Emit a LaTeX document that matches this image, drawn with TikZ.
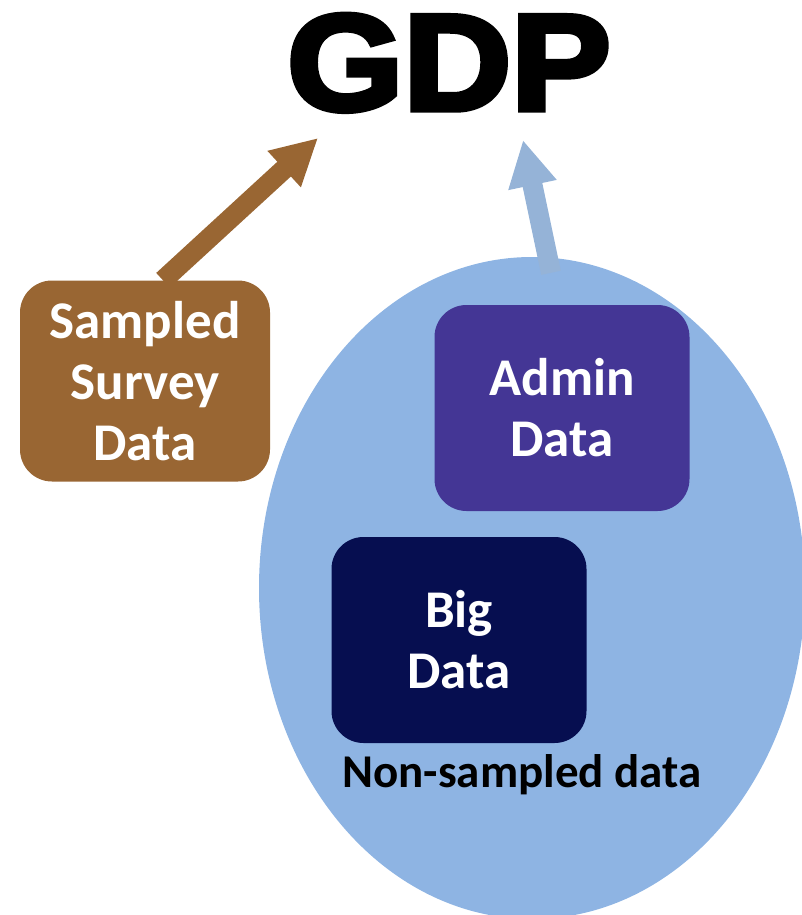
\documentclass[tikz,border=0pt]{standalone}
\usepackage{fontspec}
\setmainfont{Carlito}
\newfontfamily\gdpfont[FakeBold=4]{Liberation Sans Bold}
\usetikzlibrary{shapes.geometric,arrows.meta,calc}
\definecolor{ellblue}{RGB}{142,180,227}
\definecolor{arrblue}{RGB}{149,179,215}
\definecolor{adminc}{RGB}{68,54,149}
\definecolor{bigc}{RGB}{6,14,80}
\definecolor{brownc}{RGB}{153,102,51}
\tikzset{
  databox/.style={rounded corners=32pt, minimum width=255pt, minimum height=206pt,
    inner sep=0pt, align=center, text=white, font=\fontsize{53}{61}\selectfont\bfseries},
  fatarrow/.style={line width=20pt, -{Triangle[width=46pt,length=46pt]}}
}
\begin{document}
\begin{tikzpicture}[x=1pt,y=-1pt]
\useasboundingbox (0,0) rectangle (802,915);
\node[ellipse, fill=ellblue, minimum width=546pt, minimum height=662pt, inner sep=0pt] (nsd) at (532,588) {};
\node[databox, fill=adminc] (admin) at (562,408) {Admin\\Data};
\node[databox, fill=bigc] (big) at (459,640) {Big\\Data};
\node[databox, fill=brownc, minimum width=250pt, minimum height=201pt] (ssd) at (145,381) {Sampled\\Survey\\Data};
\node[font=\fontsize{47}{52}\selectfont\bfseries, inner sep=0pt] (nslabel) at (522,775) {Non-sampled data};
\node[font=\gdpfont\fontsize{137}{137}\selectfont, xscale=1.09, inner sep=0pt, anchor=base] (gdp) at (449,110) {GDP};
\coordinate (tipL) at (318,138);
\coordinate (tipR) at (523,140);
\coordinate (srcR) at ($(nsd.north)+(19,16)$);
\coordinate (srcL) at ($(ssd.north)+(18,0)$);
\draw[fatarrow, brownc] (srcL) -- (tipL);
\draw[fatarrow, arrblue] (srcR) -- (tipR);
\end{tikzpicture}
\end{document}
